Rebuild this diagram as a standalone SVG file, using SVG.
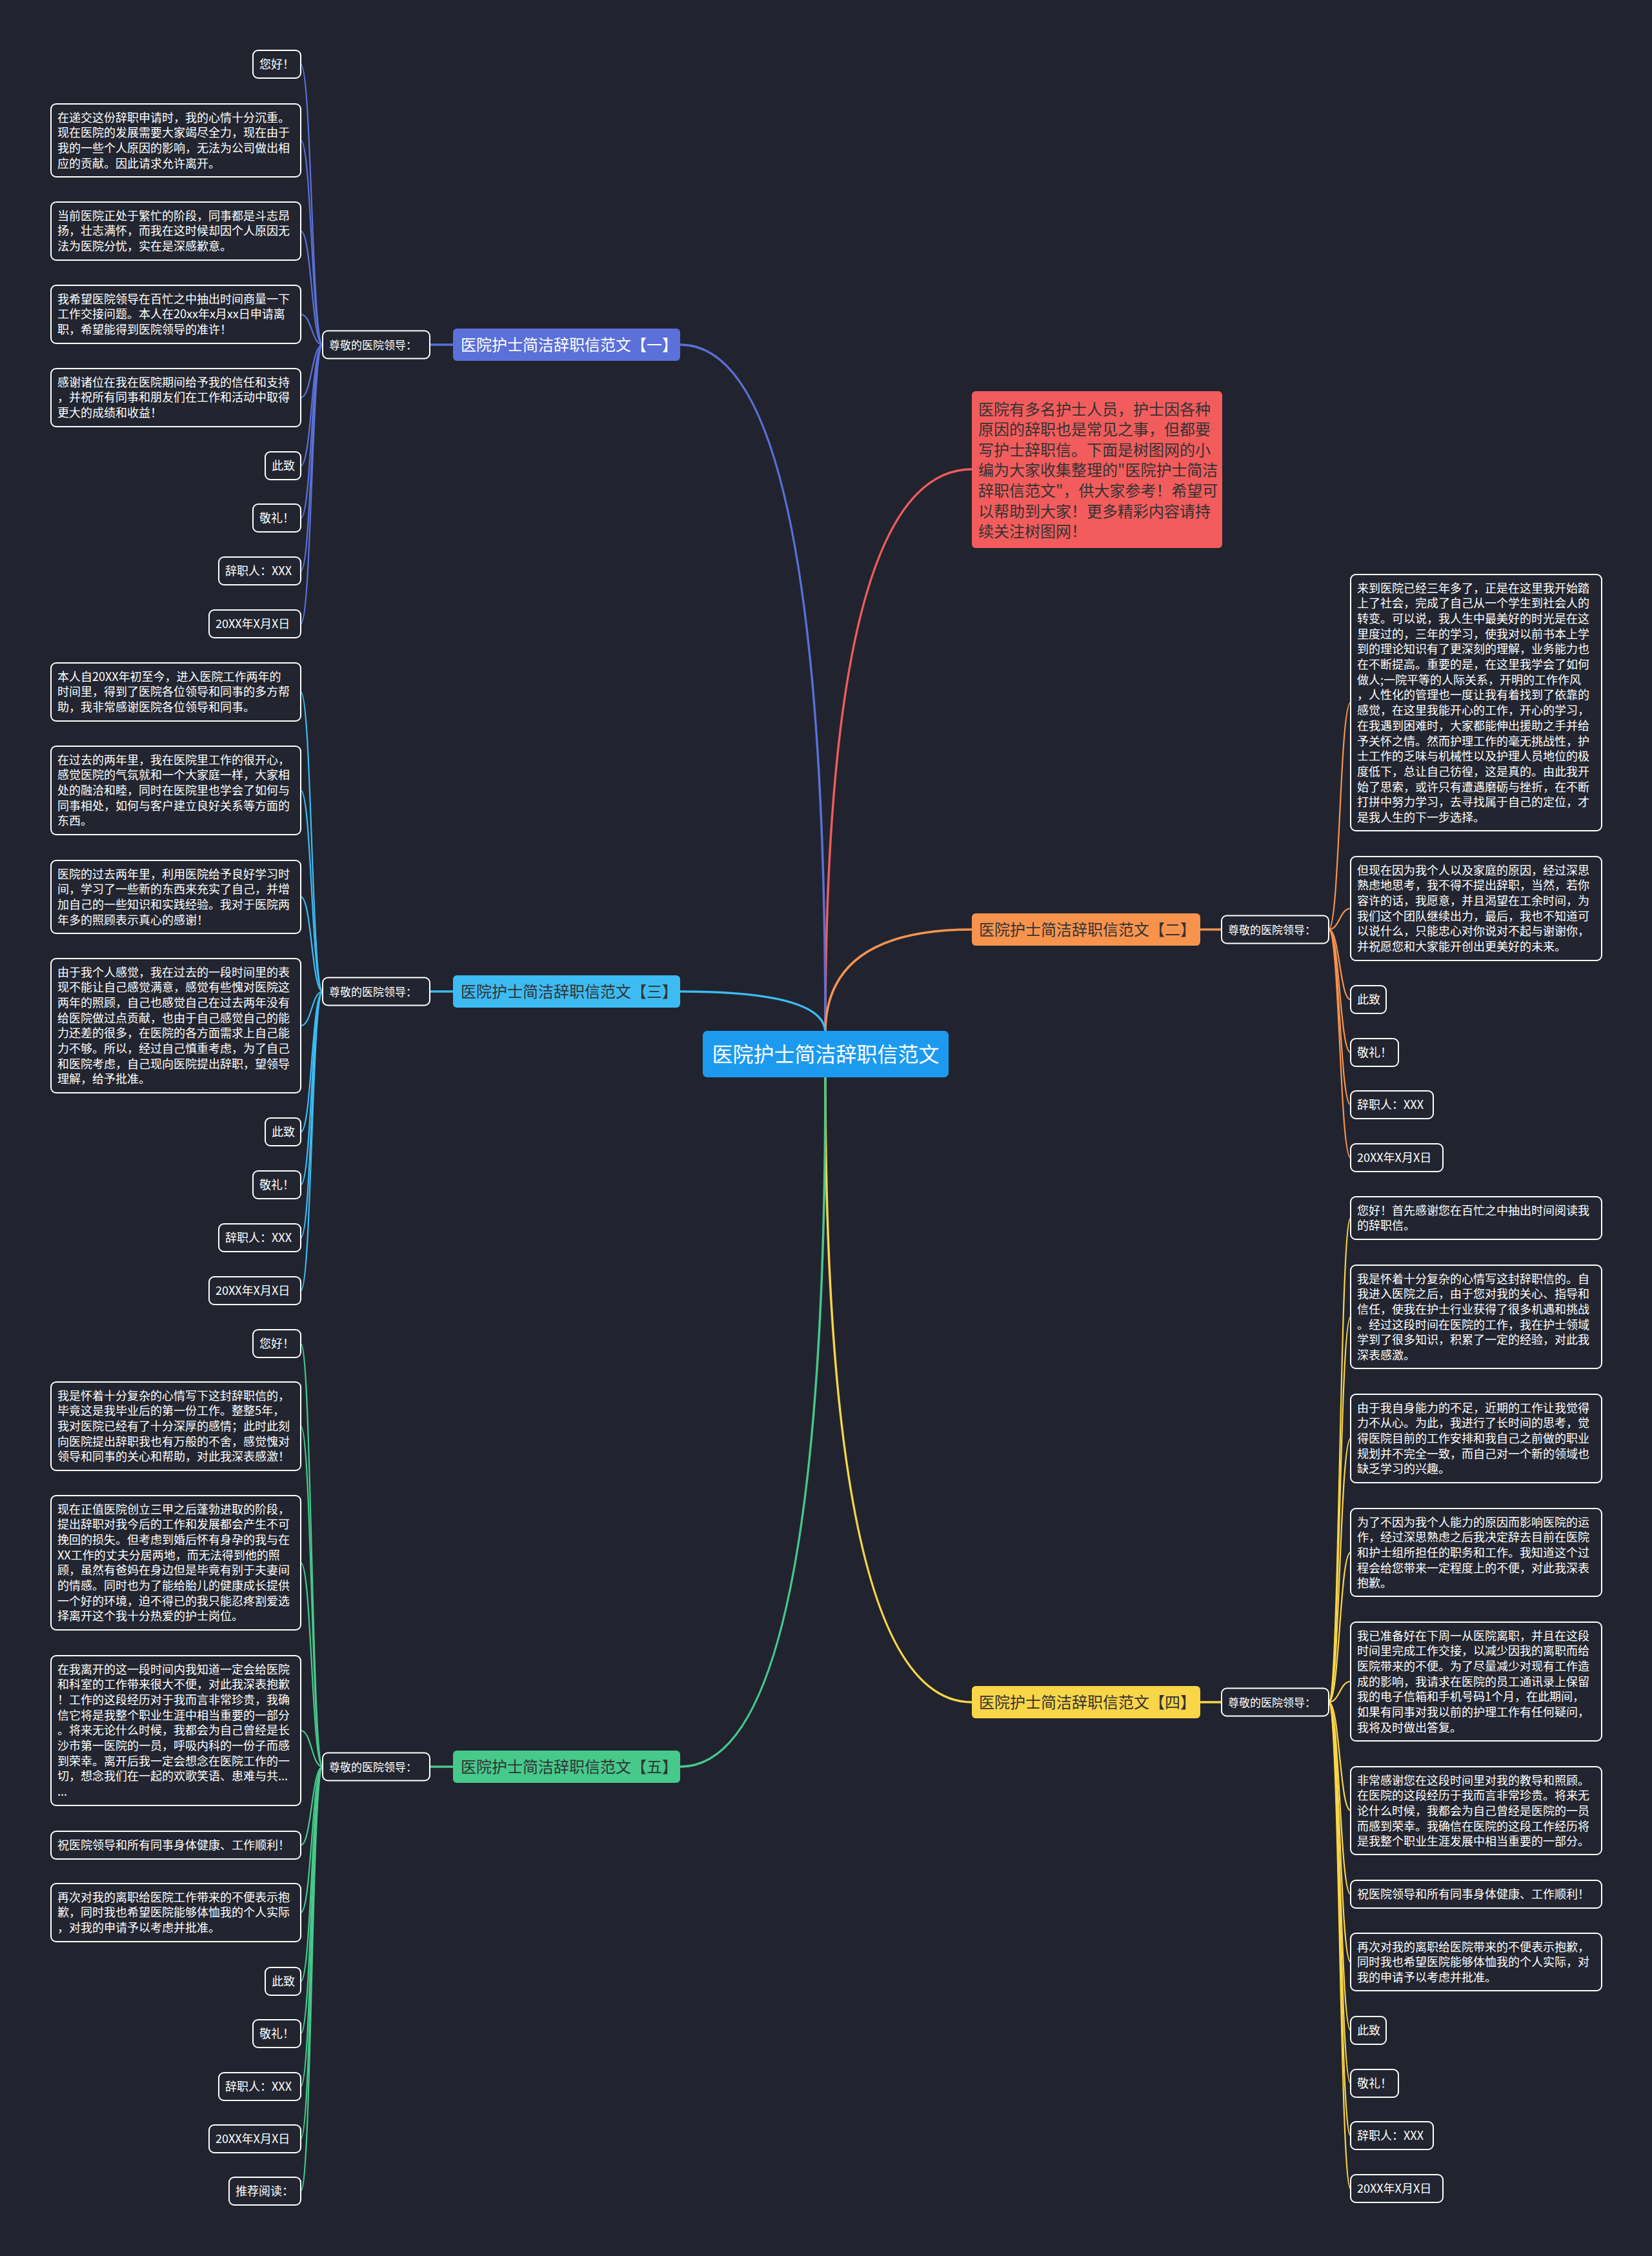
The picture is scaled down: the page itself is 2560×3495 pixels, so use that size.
<svg xmlns="http://www.w3.org/2000/svg" width="2560" height="3495" viewBox="0 0 2560 3495">
<style>
text{font-family:"Noto Sans CJK SC","Noto Sans",sans-serif}
.leaf{fill:#22252f;stroke:#ffffff;stroke-width:2}
.t{font-size:18px;fill:#ffffff}
.s{font-size:17px;fill:#ffffff}
.b{font-size:24px;fill:#333333}
.cn{fill:none;stroke-width:3.5}
.ln{fill:none;stroke-width:2.2}
.blue{stroke:#5b70d8}.lb{stroke:#3dbbf3}.gr{stroke:#46c98b}.or{stroke:#f8934e}.ye{stroke:#f9d548}.rd{stroke:#f25c5c}
</style>
<rect x="0" y="0" width="2560" height="3495" fill="#21242f"/>
<g id="connectors">
<path class="cn rd" d="M1279,1600 Q1279,727 1506,727"/>
<path class="cn blue" d="M1279,1600 Q1279,534 1054,534"/>
<path class="cn or" d="M1279,1600 Q1279,1440 1506,1440"/>
<path class="cn lb" d="M1279,1600 Q1279,1536 1054,1536"/>
<path class="cn ye" d="M1279,1669 Q1279,2637 1506,2637"/>
<path class="cn gr" d="M1279,1669 Q1279,2737 1054,2737"/>
<path class="cn blue" d="M666,534 L702,534"/>
<path class="cn lb" d="M666,1536 L702,1536"/>
<path class="cn gr" d="M666,2737 L702,2737"/>
<path class="cn or" d="M1860,1440 L1893,1440"/>
<path class="cn ye" d="M1860,2637 L1893,2637"/>
<g class="ln blue">
<path d="M500,534 C483,534 483,99.5 466,99.5"/>
<path d="M500,534 C483,534 483,217.5 466,217.5"/>
<path d="M500,534 C483,534 483,358 466,358"/>
<path d="M500,534 C483,534 483,487 466,487"/>
<path d="M500,534 C483,534 483,616 466,616"/>
<path d="M500,534 C483,534 483,721.5 466,721.5"/>
<path d="M500,534 C483,534 483,802.5 466,802.5"/>
<path d="M500,534 C483,534 483,884.5 466,884.5"/>
<path d="M500,534 C483,534 483,966.5 466,966.5"/>
</g>
<g class="ln lb">
<path d="M500,1536 C483,1536 483,1072 466,1072"/>
<path d="M500,1536 C483,1536 483,1224.5 466,1224.5"/>
<path d="M500,1536 C483,1536 483,1389.5 466,1389.5"/>
<path d="M500,1536 C483,1536 483,1589 466,1589"/>
<path d="M500,1536 C483,1536 483,1753.5 466,1753.5"/>
<path d="M500,1536 C483,1536 483,1835.5 466,1835.5"/>
<path d="M500,1536 C483,1536 483,1917.5 466,1917.5"/>
<path d="M500,1536 C483,1536 483,1999.5 466,1999.5"/>
</g>
<g class="ln gr">
<path d="M500,2737 C483,2737 483,2081.5 466,2081.5"/>
<path d="M500,2737 C483,2737 483,2209.5 466,2209.5"/>
<path d="M500,2737 C483,2737 483,2421 466,2421"/>
<path d="M500,2737 C483,2737 483,2681 466,2681"/>
<path d="M500,2737 C483,2737 483,2858.5 466,2858.5"/>
<path d="M500,2737 C483,2737 483,2963 466,2963"/>
<path d="M500,2737 C483,2737 483,3069.5 466,3069.5"/>
<path d="M500,2737 C483,2737 483,3150.5 466,3150.5"/>
<path d="M500,2737 C483,2737 483,3232.5 466,3232.5"/>
<path d="M500,2737 C483,2737 483,3313.5 466,3313.5"/>
<path d="M500,2737 C483,2737 483,3394.5 466,3394.5"/>
</g>
<g class="ln or">
<path d="M2059,1440 C2076,1440 2076,1088.5 2093,1088.5"/>
<path d="M2059,1440 C2076,1440 2076,1407.5 2093,1407.5"/>
<path d="M2059,1440 C2076,1440 2076,1548.5 2093,1548.5"/>
<path d="M2059,1440 C2076,1440 2076,1630.5 2093,1630.5"/>
<path d="M2059,1440 C2076,1440 2076,1711.5 2093,1711.5"/>
<path d="M2059,1440 C2076,1440 2076,1793.5 2093,1793.5"/>
</g>
<g class="ln ye">
<path d="M2059,2637 C2076,2637 2076,1887 2093,1887"/>
<path d="M2059,2637 C2076,2637 2076,2040 2093,2040"/>
<path d="M2059,2637 C2076,2637 2076,2228.5 2093,2228.5"/>
<path d="M2059,2637 C2076,2637 2076,2405 2093,2405"/>
<path d="M2059,2637 C2076,2637 2076,2605 2093,2605"/>
<path d="M2059,2637 C2076,2637 2076,2805 2093,2805"/>
<path d="M2059,2637 C2076,2637 2076,2934.5 2093,2934.5"/>
<path d="M2059,2637 C2076,2637 2076,3039.5 2093,3039.5"/>
<path d="M2059,2637 C2076,2637 2076,3145.5 2093,3145.5"/>
<path d="M2059,2637 C2076,2637 2076,3227.5 2093,3227.5"/>
<path d="M2059,2637 C2076,2637 2076,3308.5 2093,3308.5"/>
<path d="M2059,2637 C2076,2637 2076,3390.5 2093,3390.5"/>
</g>
</g>

<g id="center">
<rect x="1089" y="1597" width="381" height="72" rx="7" fill="#1c9af0"/>
<text x="1279.5" y="1645" text-anchor="middle" style="font-size:32px;fill:#ffffff">医院护士简洁辞职信范文</text>
</g>

<g id="intro">
<rect x="1506" y="606" width="388" height="243" rx="6" fill="#f25c5c"/>
<text x="1516" y="642.5" style="font-size:24px;fill:#333333"><tspan x="1516">医院有多名护士人员，护士因各种</tspan><tspan x="1516" dy="31.6">原因的辞职也是常见之事，但都要</tspan><tspan x="1516" dy="31.6">写护士辞职信。下面是树图网的小</tspan><tspan x="1516" dy="31.6">编为大家收集整理的"医院护士简洁</tspan><tspan x="1516" dy="31.6">辞职信范文"，供大家参考！希望可</tspan><tspan x="1516" dy="31.6">以帮助到大家！更多精彩内容请持</tspan><tspan x="1516" dy="31.6">续关注树图网！</tspan></text>
</g>

<g id="branch1">
<rect x="702" y="509" width="352" height="50" rx="6" fill="#5b70d8"/>
<text class="b" x="714" y="543" style="fill:#ffffff">医院护士简洁辞职信范文【一】</text>
</g>
<g id="branch3">
<rect x="702" y="1511" width="352" height="50" rx="6" fill="#3dbbf3"/>
<text class="b" x="714" y="1545">医院护士简洁辞职信范文【三】</text>
</g>
<g id="branch5">
<rect x="702" y="2712" width="352" height="50" rx="6" fill="#46c98b"/>
<text class="b" x="714" y="2746">医院护士简洁辞职信范文【五】</text>
</g>
<g id="branch2">
<rect x="1506" y="1415" width="354" height="50" rx="6" fill="#f8934e"/>
<text class="b" x="1517" y="1449">医院护士简洁辞职信范文【二】</text>
</g>
<g id="branch4">
<rect x="1506" y="2612" width="354" height="50" rx="6" fill="#f9d548"/>
<text class="b" x="1517" y="2646">医院护士简洁辞职信范文【四】</text>
</g>

<g id="sub1"><rect class="leaf" x="500" y="512.5" width="166" height="43" rx="8"/><text class="s" x="510" y="540.5">尊敬的医院领导：</text></g>
<g id="sub3"><rect class="leaf" x="500" y="1514.5" width="166" height="43" rx="8"/><text class="s" x="510" y="1542.5">尊敬的医院领导：</text></g>
<g id="sub5"><rect class="leaf" x="500" y="2715.5" width="166" height="43" rx="8"/><text class="s" x="510" y="2743.5">尊敬的医院领导：</text></g>
<g id="sub2"><rect class="leaf" x="1893" y="1418.5" width="166" height="43" rx="8"/><text class="s" x="1903" y="1446.5">尊敬的医院领导：</text></g>
<g id="sub4"><rect class="leaf" x="1893" y="2615.5" width="166" height="43" rx="8"/><text class="s" x="1903" y="2643.5">尊敬的医院领导：</text></g>

<g id="b1-1"><rect class="leaf" x="392" y="78" width="74" height="43" rx="8"/><text class="t" x="402" y="106">您好！</text></g>
<g id="b1-2"><rect class="leaf" x="79" y="161" width="387" height="113" rx="8"/><text class="t" y="188.5"><tspan x="89">在递交这份辞职申请时，我的心情十分沉重。</tspan><tspan x="89" dy="23.7">现在医院的发展需要大家竭尽全力，现在由于</tspan><tspan x="89" dy="23.7">我的一些个人原因的影响，无法为公司做出相</tspan><tspan x="89" dy="23.7">应的贡献。因此请求允许离开。</tspan></text></g>
<g id="b1-3"><rect class="leaf" x="79" y="313" width="387" height="90" rx="8"/><text class="t" y="340.5"><tspan x="89">当前医院正处于繁忙的阶段，同事都是斗志昂</tspan><tspan x="89" dy="23.7">扬，壮志满怀，而我在这时候却因个人原因无</tspan><tspan x="89" dy="23.7">法为医院分忧，实在是深感歉意。</tspan></text></g>
<g id="b1-4"><rect class="leaf" x="79" y="442" width="387" height="90" rx="8"/><text class="t" y="469.5"><tspan x="89">我希望医院领导在百忙之中抽出时间商量一下</tspan><tspan x="89" dy="23.7">工作交接问题。本人在20xx年x月xx日申请离</tspan><tspan x="89" dy="23.7">职，希望能得到医院领导的准许！</tspan></text></g>
<g id="b1-5"><rect class="leaf" x="79" y="571" width="387" height="90" rx="8"/><text class="t" y="598.5"><tspan x="89">感谢诸位在我在医院期间给予我的信任和支持</tspan><tspan x="89" dy="23.7">，并祝所有同事和朋友们在工作和活动中取得</tspan><tspan x="89" dy="23.7">更大的成绩和收益！</tspan></text></g>
<g id="b1-6"><rect class="leaf" x="411" y="700" width="55" height="43" rx="8"/><text class="t" x="421" y="728">此致</text></g>
<g id="b1-7"><rect class="leaf" x="392" y="781" width="74" height="43" rx="8"/><text class="t" x="402" y="809">敬礼！</text></g>
<g id="b1-8"><rect class="leaf" x="339" y="863" width="127" height="43" rx="8"/><text class="t" x="349" y="891">辞职人：XXX</text></g>
<g id="b1-9"><rect class="leaf" x="324" y="945" width="142" height="43" rx="8"/><text class="t" x="334" y="973">20XX年X月X日</text></g>

<g id="b3-1"><rect class="leaf" x="79" y="1027" width="387" height="90" rx="8"/><text class="t" y="1054.5"><tspan x="89">本人自20XX年初至今，进入医院工作两年的</tspan><tspan x="89" dy="23.7">时间里，得到了医院各位领导和同事的多方帮</tspan><tspan x="89" dy="23.7">助，我非常感谢医院各位领导和同事。</tspan></text></g>
<g id="b3-2"><rect class="leaf" x="79" y="1156" width="387" height="137" rx="8"/><text class="t" y="1183.5"><tspan x="89">在过去的两年里，我在医院里工作的很开心，</tspan><tspan x="89" dy="23.7">感觉医院的气氛就和一个大家庭一样，大家相</tspan><tspan x="89" dy="23.7">处的融洽和睦，同时在医院里也学会了如何与</tspan><tspan x="89" dy="23.7">同事相处，如何与客户建立良好关系等方面的</tspan><tspan x="89" dy="23.7">东西。</tspan></text></g>
<g id="b3-3"><rect class="leaf" x="79" y="1333" width="387" height="113" rx="8"/><text class="t" y="1360.5"><tspan x="89">医院的过去两年里，利用医院给予良好学习时</tspan><tspan x="89" dy="23.7">间，学习了一些新的东西来充实了自己，并增</tspan><tspan x="89" dy="23.7">加自己的一些知识和实践经验。我对于医院两</tspan><tspan x="89" dy="23.7">年多的照顾表示真心的感谢！</tspan></text></g>
<g id="b3-4"><rect class="leaf" x="79" y="1485" width="387" height="208" rx="8"/><text class="t" y="1512.5"><tspan x="89">由于我个人感觉，我在过去的一段时间里的表</tspan><tspan x="89" dy="23.7">现不能让自己感觉满意，感觉有些愧对医院这</tspan><tspan x="89" dy="23.7">两年的照顾，自己也感觉自己在过去两年没有</tspan><tspan x="89" dy="23.7">给医院做过点贡献，也由于自己感觉自己的能</tspan><tspan x="89" dy="23.7">力还差的很多，在医院的各方面需求上自己能</tspan><tspan x="89" dy="23.7">力不够。所以，经过自己慎重考虑，为了自己</tspan><tspan x="89" dy="23.7">和医院考虑，自己现向医院提出辞职，望领导</tspan><tspan x="89" dy="23.7">理解，给予批准。</tspan></text></g>
<g id="b3-5"><rect class="leaf" x="411" y="1732" width="55" height="43" rx="8"/><text class="t" x="421" y="1760">此致</text></g>
<g id="b3-6"><rect class="leaf" x="392" y="1814" width="74" height="43" rx="8"/><text class="t" x="402" y="1842">敬礼！</text></g>
<g id="b3-7"><rect class="leaf" x="339" y="1896" width="127" height="43" rx="8"/><text class="t" x="349" y="1924">辞职人：XXX</text></g>
<g id="b3-8"><rect class="leaf" x="324" y="1978" width="142" height="43" rx="8"/><text class="t" x="334" y="2006">20XX年X月X日</text></g>

<g id="b5-1"><rect class="leaf" x="392" y="2060" width="74" height="43" rx="8"/><text class="t" x="402" y="2088">您好！</text></g>
<g id="b5-2"><rect class="leaf" x="79" y="2141" width="387" height="137" rx="8"/><text class="t" y="2168.5"><tspan x="89">我是怀着十分复杂的心情写下这封辞职信的，</tspan><tspan x="89" dy="23.7">毕竟这是我毕业后的第一份工作。整整5年，</tspan><tspan x="89" dy="23.7">我对医院已经有了十分深厚的感情；此时此刻</tspan><tspan x="89" dy="23.7">向医院提出辞职我也有万般的不舍，感觉愧对</tspan><tspan x="89" dy="23.7">领导和同事的关心和帮助，对此我深表感激！</tspan></text></g>
<g id="b5-3"><rect class="leaf" x="79" y="2317" width="387" height="208" rx="8"/><text class="t" y="2344.5"><tspan x="89">现在正值医院创立三甲之后蓬勃进取的阶段，</tspan><tspan x="89" dy="23.7">提出辞职对我今后的工作和发展都会产生不可</tspan><tspan x="89" dy="23.7">挽回的损失。但考虑到婚后怀有身孕的我与在</tspan><tspan x="89" dy="23.7">XX工作的丈夫分居两地，而无法得到他的照</tspan><tspan x="89" dy="23.7">顾，虽然有爸妈在身边但是毕竟有别于夫妻间</tspan><tspan x="89" dy="23.7">的情感。同时也为了能给胎儿的健康成长提供</tspan><tspan x="89" dy="23.7">一个好的环境，迫不得已的我只能忍疼割爱选</tspan><tspan x="89" dy="23.7">择离开这个我十分热爱的护士岗位。</tspan></text></g>
<g id="b5-4"><rect class="leaf" x="79" y="2565" width="387" height="232" rx="8"/><text class="t" y="2592.5"><tspan x="89">在我离开的这一段时间内我知道一定会给医院</tspan><tspan x="89" dy="23.7">和科室的工作带来很大不便，对此我深表抱歉</tspan><tspan x="89" dy="23.7">！工作的这段经历对于我而言非常珍贵，我确</tspan><tspan x="89" dy="23.7">信它将是我整个职业生涯中相当重要的一部分</tspan><tspan x="89" dy="23.7">。将来无论什么时候，我都会为自己曾经是长</tspan><tspan x="89" dy="23.7">沙市第一医院的一员，呼吸内科的一份子而感</tspan><tspan x="89" dy="23.7">到荣幸。离开后我一定会想念在医院工作的一</tspan><tspan x="89" dy="23.7">切，想念我们在一起的欢歌笑语、患难与共...</tspan><tspan x="89" dy="23.7">...</tspan></text></g>
<g id="b5-5"><rect class="leaf" x="79" y="2837" width="387" height="43" rx="8"/><text class="t" x="89" y="2865">祝医院领导和所有同事身体健康、工作顺利！</text></g>
<g id="b5-6"><rect class="leaf" x="79" y="2918" width="387" height="90" rx="8"/><text class="t" y="2945.5"><tspan x="89">再次对我的离职给医院工作带来的不便表示抱</tspan><tspan x="89" dy="23.7">歉，同时我也希望医院能够体恤我的个人实际</tspan><tspan x="89" dy="23.7">，对我的申请予以考虑并批准。</tspan></text></g>
<g id="b5-7"><rect class="leaf" x="411" y="3048" width="55" height="43" rx="8"/><text class="t" x="421" y="3076">此致</text></g>
<g id="b5-8"><rect class="leaf" x="392" y="3129" width="74" height="43" rx="8"/><text class="t" x="402" y="3157">敬礼！</text></g>
<g id="b5-9"><rect class="leaf" x="339" y="3211" width="127" height="43" rx="8"/><text class="t" x="349" y="3239">辞职人：XXX</text></g>
<g id="b5-10"><rect class="leaf" x="324" y="3292" width="142" height="43" rx="8"/><text class="t" x="334" y="3320">20XX年X月X日</text></g>
<g id="b5-11"><rect class="leaf" x="355" y="3373" width="111" height="43" rx="8"/><text class="t" x="365" y="3401">推荐阅读：</text></g>

<g id="b2-1"><rect class="leaf" x="2093" y="890" width="389" height="397" rx="8"/><text class="t" y="917.5"><tspan x="2103">来到医院已经三年多了，正是在这里我开始踏</tspan><tspan x="2103" dy="23.7">上了社会，完成了自己从一个学生到社会人的</tspan><tspan x="2103" dy="23.7">转变。可以说，我人生中最美好的时光是在这</tspan><tspan x="2103" dy="23.7">里度过的，三年的学习，使我对以前书本上学</tspan><tspan x="2103" dy="23.7">到的理论知识有了更深刻的理解，业务能力也</tspan><tspan x="2103" dy="23.7">在不断提高。重要的是，在这里我学会了如何</tspan><tspan x="2103" dy="23.7">做人;一院平等的人际关系，开明的工作作风</tspan><tspan x="2103" dy="23.7">，人性化的管理也一度让我有着找到了依靠的</tspan><tspan x="2103" dy="23.7">感觉，在这里我能开心的工作，开心的学习，</tspan><tspan x="2103" dy="23.7">在我遇到困难时，大家都能伸出援助之手并给</tspan><tspan x="2103" dy="23.7">予关怀之情。然而护理工作的毫无挑战性，护</tspan><tspan x="2103" dy="23.7">士工作的乏味与机械性以及护理人员地位的极</tspan><tspan x="2103" dy="23.7">度低下，总让自己彷徨，这是真的。由此我开</tspan><tspan x="2103" dy="23.7">始了思索，或许只有遭遇磨砺与挫折，在不断</tspan><tspan x="2103" dy="23.7">打拼中努力学习，去寻找属于自己的定位，才</tspan><tspan x="2103" dy="23.7">是我人生的下一步选择。</tspan></text></g>
<g id="b2-2"><rect class="leaf" x="2093" y="1327" width="389" height="161" rx="8"/><text class="t" y="1354.5"><tspan x="2103">但现在因为我个人以及家庭的原因，经过深思</tspan><tspan x="2103" dy="23.7">熟虑地思考，我不得不提出辞职，当然，若你</tspan><tspan x="2103" dy="23.7">容许的话，我愿意，并且渴望在工余时间，为</tspan><tspan x="2103" dy="23.7">我们这个团队继续出力，最后，我也不知道可</tspan><tspan x="2103" dy="23.7">以说什么，只能忠心对你说对不起与谢谢你，</tspan><tspan x="2103" dy="23.7">并祝愿您和大家能开创出更美好的未来。</tspan></text></g>
<g id="b2-3"><rect class="leaf" x="2093" y="1527" width="55" height="43" rx="8"/><text class="t" x="2103" y="1555">此致</text></g>
<g id="b2-4"><rect class="leaf" x="2093" y="1609" width="74" height="43" rx="8"/><text class="t" x="2103" y="1637">敬礼！</text></g>
<g id="b2-5"><rect class="leaf" x="2093" y="1690" width="128" height="43" rx="8"/><text class="t" x="2103" y="1718">辞职人：XXX</text></g>
<g id="b2-6"><rect class="leaf" x="2093" y="1772" width="143" height="43" rx="8"/><text class="t" x="2103" y="1800">20XX年X月X日</text></g>

<g id="b4-1"><rect class="leaf" x="2093" y="1854" width="389" height="66" rx="8"/><text class="t" y="1881.5"><tspan x="2103">您好！首先感谢您在百忙之中抽出时间阅读我</tspan><tspan x="2103" dy="23.7">的辞职信。</tspan></text></g>
<g id="b4-2"><rect class="leaf" x="2093" y="1960" width="389" height="160" rx="8"/><text class="t" y="1987.5"><tspan x="2103">我是怀着十分复杂的心情写这封辞职信的。自</tspan><tspan x="2103" dy="23.7">我进入医院之后，由于您对我的关心、指导和</tspan><tspan x="2103" dy="23.7">信任，使我在护士行业获得了很多机遇和挑战</tspan><tspan x="2103" dy="23.7">。经过这段时间在医院的工作，我在护士领域</tspan><tspan x="2103" dy="23.7">学到了很多知识，积累了一定的经验，对此我</tspan><tspan x="2103" dy="23.7">深表感激。</tspan></text></g>
<g id="b4-3"><rect class="leaf" x="2093" y="2160" width="389" height="137" rx="8"/><text class="t" y="2187.5"><tspan x="2103">由于我自身能力的不足，近期的工作让我觉得</tspan><tspan x="2103" dy="23.7">力不从心。为此，我进行了长时间的思考，觉</tspan><tspan x="2103" dy="23.7">得医院目前的工作安排和我自己之前做的职业</tspan><tspan x="2103" dy="23.7">规划并不完全一致，而自己对一个新的领域也</tspan><tspan x="2103" dy="23.7">缺乏学习的兴趣。</tspan></text></g>
<g id="b4-4"><rect class="leaf" x="2093" y="2337" width="389" height="136" rx="8"/><text class="t" y="2364.5"><tspan x="2103">为了不因为我个人能力的原因而影响医院的运</tspan><tspan x="2103" dy="23.7">作，经过深思熟虑之后我决定辞去目前在医院</tspan><tspan x="2103" dy="23.7">和护士组所担任的职务和工作。我知道这个过</tspan><tspan x="2103" dy="23.7">程会给您带来一定程度上的不便，对此我深表</tspan><tspan x="2103" dy="23.7">抱歉。</tspan></text></g>
<g id="b4-5"><rect class="leaf" x="2093" y="2513" width="389" height="184" rx="8"/><text class="t" y="2540.5"><tspan x="2103">我已准备好在下周一从医院离职，并且在这段</tspan><tspan x="2103" dy="23.7">时间里完成工作交接，以减少因我的离职而给</tspan><tspan x="2103" dy="23.7">医院带来的不便。为了尽量减少对现有工作造</tspan><tspan x="2103" dy="23.7">成的影响，我请求在医院的员工通讯录上保留</tspan><tspan x="2103" dy="23.7">我的电子信箱和手机号码1个月，在此期间，</tspan><tspan x="2103" dy="23.7">如果有同事对我以前的护理工作有任何疑问，</tspan><tspan x="2103" dy="23.7">我将及时做出答复。</tspan></text></g>
<g id="b4-6"><rect class="leaf" x="2093" y="2737" width="389" height="136" rx="8"/><text class="t" y="2764.5"><tspan x="2103">非常感谢您在这段时间里对我的教导和照顾。</tspan><tspan x="2103" dy="23.7">在医院的这段经历于我而言非常珍贵。将来无</tspan><tspan x="2103" dy="23.7">论什么时候，我都会为自己曾经是医院的一员</tspan><tspan x="2103" dy="23.7">而感到荣幸。我确信在医院的这段工作经历将</tspan><tspan x="2103" dy="23.7">是我整个职业生涯发展中相当重要的一部分。</tspan></text></g>
<g id="b4-7"><rect class="leaf" x="2093" y="2913" width="389" height="43" rx="8"/><text class="t" x="2103" y="2941">祝医院领导和所有同事身体健康、工作顺利！</text></g>
<g id="b4-8"><rect class="leaf" x="2093" y="2995" width="389" height="89" rx="8"/><text class="t" y="3022.5"><tspan x="2103">再次对我的离职给医院带来的不便表示抱歉，</tspan><tspan x="2103" dy="23.7">同时我也希望医院能够体恤我的个人实际，对</tspan><tspan x="2103" dy="23.7">我的申请予以考虑并批准。</tspan></text></g>
<g id="b4-9"><rect class="leaf" x="2093" y="3124" width="55" height="43" rx="8"/><text class="t" x="2103" y="3152">此致</text></g>
<g id="b4-10"><rect class="leaf" x="2093" y="3206" width="74" height="43" rx="8"/><text class="t" x="2103" y="3234">敬礼！</text></g>
<g id="b4-11"><rect class="leaf" x="2093" y="3287" width="128" height="43" rx="8"/><text class="t" x="2103" y="3315">辞职人：XXX</text></g>
<g id="b4-12"><rect class="leaf" x="2093" y="3369" width="143" height="43" rx="8"/><text class="t" x="2103" y="3397">20XX年X月X日</text></g>
</svg>
